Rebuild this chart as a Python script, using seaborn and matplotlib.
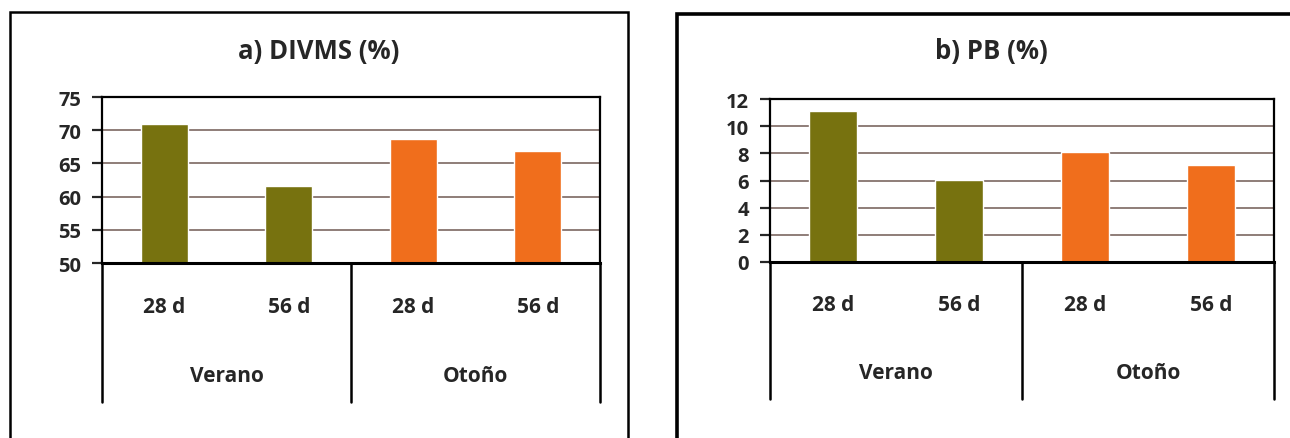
import pandas as pd
import seaborn as sns
import matplotlib.pyplot as plt
from matplotlib.patches import Rectangle

sns.set_style('white')
plt.rcParams['font.family'] = ['Open Sans', 'DejaVu Sans']
plt.rcParams['font.weight'] = 'bold'

# datos
estaciones = ['Verano', 'Verano', 'Otoño', 'Otoño']
dias = ['28 d', '56 d', '28 d', '56 d']
divms = [71.0, 61.6, 68.6, 66.8]
pb = [11.1, 6.05, 8.07, 7.17]
titulos = ['a) DIVMS (%)', 'b) PB (%)']
limites = [(50, 75, 5), (0, 12, 2)]
colores = {'Verano': '#77720f', 'Otoño': '#f06e1c'}
rejilla = '#8e7d78'

da = pd.DataFrame({'estacion': estaciones, 'dia': dias,
                   'clave': [e + ' ' + d for e, d in zip(estaciones, dias)],
                   'DIVMS': divms, 'PB': pb})

fig = plt.figure(figsize=(12.9, 4.39), dpi=100)
W, H = 1290, 439

# marcos exteriores (px)
fig.add_artist(Rectangle((10 / W, -0.1), (628 - 10) / W, 1.1 - 13 / H,
                         transform=fig.transFigure, fill=False, lw=1.8, color='black'))
fig.add_artist(Rectangle((677 / W, -0.1), (1320 - 677) / W, 1.1 - 15 / H,
                         transform=fig.transFigure, fill=False, lw=2.6, color='black'))

cajas = [(102, 600, 98, 264), (770, 1274, 100, 263)]
centros_titulo = [319, 991]
for i, col in enumerate(['DIVMS', 'PB']):
    x0, x1, y0, y1 = cajas[i]
    ax = fig.add_axes([x0 / W, (H - y1) / H, (x1 - x0) / W, (y1 - y0) / H])
    lo, hi, paso = limites[i]
    ax.set_ylim(lo, hi)
    ax.set_yticks(range(lo, hi + 1, paso))
    for v in range(lo + paso, hi, paso):
        ax.axhline(v, color=rejilla, lw=1.4, zorder=0)
    sns.barplot(data=da, x='clave', y=col, hue='estacion', palette=colores,
                dodge=False, width=0.38, saturation=1, legend=False, ax=ax, zorder=2)
    ax.set_xlim(-0.5, 3.5)
    ax.set_xlabel('')
    ax.set_ylabel('')
    ax.set_xticks([])
    for s in ax.spines.values():
        s.set_color('black')
        s.set_linewidth(1.6)
    ax.spines['bottom'].set_linewidth(2.2)
    ax.tick_params(axis='y', left=True, length=7, width=1.6, pad=8,
                   labelsize=14.5, direction='out')
    for t in ax.get_yticklabels():
        t.set_fontweight('bold')

    # etiquetas jerárquicas del eje x
    for k, d in enumerate(dias):
        ax.text((k + 0.5) / 4, -0.26, d, transform=ax.transAxes,
                ha='center', va='center', fontsize=15, fontweight='bold')
    for k, e in enumerate(['Verano', 'Otoño']):
        ax.text(0.25 + 0.5 * k, -0.675, e, transform=ax.transAxes,
                ha='center', va='center', fontsize=15, fontweight='bold')
    for xs in [0, 0.5, 1]:
        ax.plot([xs, xs], [0, -0.84], transform=ax.transAxes, color='black',
                lw=1.8, clip_on=False)

    fig.text(centros_titulo[i] / W, (H - 52) / H, titulos[i], ha='center',
             va='center', fontsize=18.5, fontweight='bold')

fig.savefig('out.png', dpi=100, facecolor='white')
